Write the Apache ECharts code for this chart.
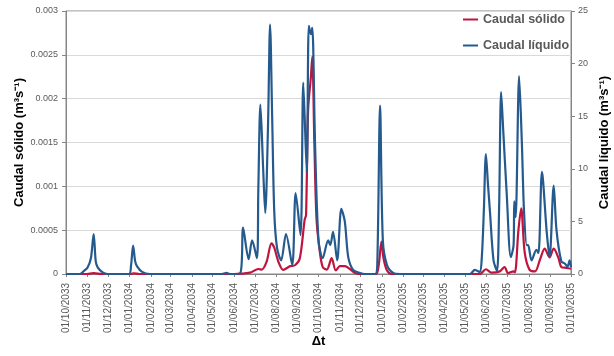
<!DOCTYPE html>
<html>
<head>
    <meta charset="utf-8">
    <title>Caudal sólido y líquido</title>
    <script src="https://cdn.jsdelivr.net/npm/echarts@6/dist/echarts.min.js"></script>
    <style>
        html, body { margin: 0; padding: 0; background: #fff; }
        #chart { width: 614px; height: 356px; }
    </style>
</head>
<body>
<div id="chart"></div>
<script>
    // caudal líquido (eje derecho, m3/s)
    var liqDates = ['2033-10-01', '2033-10-21', '2033-10-27', '2033-11-01', '2033-11-06', '2033-11-10', '2033-11-13',
        '2033-11-16', '2033-11-23', '2033-11-30', '2033-12-31', '2034-01-03', '2034-01-06', '2034-01-09', '2034-01-12',
        '2034-01-19', '2034-01-30', '2034-05-14', '2034-05-21', '2034-05-26', '2034-06-10', '2034-06-14', '2034-06-22',
        '2034-06-27', '2034-07-04', '2034-07-06', '2034-07-09', '2034-07-13', '2034-07-16', '2034-07-20', '2034-07-23',
        '2034-07-26', '2034-07-29', '2034-08-02', '2034-08-08', '2034-08-15', '2034-08-24', '2034-08-29', '2034-09-05',
        '2034-09-09', '2034-09-14', '2034-09-17', '2034-09-20', '2034-09-22', '2034-09-26', '2034-10-01', '2034-10-07',
        '2034-10-15', '2034-10-18', '2034-10-22', '2034-10-28', '2034-11-03', '2034-11-08', '2034-11-13', '2034-11-20',
        '2034-11-30', '2034-12-07', '2034-12-22', '2034-12-25', '2034-12-29', '2035-01-02', '2035-01-08', '2035-01-17',
        '2035-01-27', '2035-05-08', '2035-05-15', '2035-05-22', '2035-05-25', '2035-05-28', '2035-05-31', '2035-06-03',
        '2035-06-06', '2035-06-11', '2035-06-16', '2035-06-19', '2035-06-22', '2035-06-25', '2035-06-30', '2035-07-06',
        '2035-07-10', '2035-07-11', '2035-07-13', '2035-07-18', '2035-07-22', '2035-07-25', '2035-07-29', '2035-07-31',
        '2035-08-05', '2035-08-12', '2035-08-15', '2035-08-20', '2035-08-27', '2035-08-31', '2035-09-06', '2035-09-10',
        '2035-09-17', '2035-09-22', '2035-09-26', '2035-09-29', '2035-10-01'];
    var liqValues = [0, 0, 0.3, 0.6, 1.5, 3.8, 1.2,
        0.6, 0.15, 0, 0, 0.8, 2.7, 1.2, 0.7,
        0.2, 0, 0, 0.1, 0, 0.1, 4.4, 1.4,
        3.2, 1.5, 8, 16.1, 10, 5.8, 14, 23.7,
        15, 6, 2.5, 1.3, 3.8, 0.85, 7.7, 3.7,
        18.2, 9.7, 23.6, 22.8, 23.4, 12.4, 3.2, 1.5,
        3.2, 2.75, 4.0, 1.3, 6.2, 5.0, 1.6, 0.4,
        0.1, 0, 0, 1, 16.0, 3.2, 0.85, 0.1,
        0, 0, 0.4, 0.2, 1.5, 6, 11.4, 8.5,
        5.8, 1.3, 0.3, 6, 17.3, 13.7, 7.7, 1.6,
        2.75, 6.9, 5.4, 18.8, 12.4, 6.1, 2.75, 2.75,
        1.3, 2.3, 2.0, 9.7, 3.9, 1.6, 8.4, 4.2,
        1.2, 1.0, 0.7, 1.3, 0.65];

    // caudal sólido (eje izquierdo, m3/s)
    var solDates = ['2033-10-01', '2033-10-31', '2033-11-10', '2033-11-22', '2034-01-03', '2034-01-07', '2034-01-15',
        '2034-06-01', '2034-06-24', '2034-07-06', '2034-07-11', '2034-07-18', '2034-07-25', '2034-07-29', '2034-08-04',
        '2034-08-11', '2034-08-21', '2034-08-28', '2034-09-04', '2034-09-11', '2034-09-13', '2034-09-16', '2034-09-20',
        '2034-09-22', '2034-09-25', '2034-09-28', '2034-10-02', '2034-10-07', '2034-10-13', '2034-10-20', '2034-10-26',
        '2034-11-01', '2034-11-08', '2034-11-15', '2034-11-23', '2034-11-30', '2034-12-23', '2034-12-27', '2034-12-31',
        '2035-01-03', '2035-01-08', '2035-01-15', '2035-05-22', '2035-05-31', '2035-06-08', '2035-06-20', '2035-06-27',
        '2035-07-02', '2035-07-10', '2035-07-12', '2035-07-17', '2035-07-21', '2035-07-26', '2035-08-02', '2035-08-10',
        '2035-08-17', '2035-08-24', '2035-08-31', '2035-09-06', '2035-09-13', '2035-09-17', '2035-09-24', '2035-10-01'];
    var solValues = [0, 0, 0.00001, 0, 0, 0.000008, 0,
        0, 0.000015, 0.000057, 0.00005, 0.00014, 0.00035, 0.0003, 0.00014,
        0.000046, 0.00009, 0.0001, 0.00018, 0.00062, 0.00067, 0.00187, 0.00225,
        0.00248, 0.0015, 0.00065, 0.00031, 0.00008, 0.00005, 0.00018, 0.00004,
        0.00009, 0.00009, 0.00006, 0.00001, 0, 0, 0.0001, 0.00037,
        0.00018, 0.00004, 0, 0, 0.000054, 0.000015, 0.00003, 0.00008,
        0.00001, 0.00003, 0.00002, 0.0005, 0.00075, 0.00025, 0.00005, 0.00003,
        0.00016, 0.00029, 0.00019, 0.00029, 0.00018, 0.00008, 0.00007, 0.00006];

    var startDate = '2033-10-01';
    var endDate = '2035-10-01';

    // un día por categoría
    var days = [];
    var t = Date.parse(startDate + 'T00:00:00Z');
    var tEnd = Date.parse(endDate + 'T00:00:00Z');
    while (t <= tEnd) {
        days.push(new Date(t).toISOString().slice(0, 10));
        t += 86400000;
    }

    function isMonthStart(index, value) {
        return value.slice(8) === '01';
    }

    function pairs(dates, values) {
        return dates.map(function (d, i) { return [d, values[i]]; });
    }

    var gray = '#595959';
    var axisGray = '#868686';
    var font = 'Liberation Sans, Arial, sans-serif';

    var myChart = echarts.init(document.getElementById('chart'));

    var option = {
        animation: false,
        textStyle: { fontFamily: font },
        grid: {
            left: 66,
            right: 43,
            top: 11,
            bottom: 82,
            outerBoundsMode: 'none',
            show: true,
            borderColor: axisGray,
            borderWidth: 1
        },
        legend: {
            orient: 'vertical',
            left: 458,
            top: 8,
            itemGap: 13,
            itemWidth: 15,
            itemHeight: 2,
            itemTextGap: 4,
            icon: 'rect',
            textStyle: { color: gray, fontWeight: 'bold', fontSize: 12.5, fontFamily: font },
            data: ['Caudal sólido', 'Caudal líquido']
        },
        xAxis: {
            type: 'category',
            data: days,
            boundaryGap: false,
            name: 'Δt',
            nameLocation: 'middle',
            nameGap: 61,
            nameMoveOverlap: false,
            nameTextStyle: { color: '#000', fontWeight: 'bold', fontSize: 13 },
            axisLine: { lineStyle: { color: axisGray } },
            axisTick: { interval: isMonthStart, length: 3, lineStyle: { color: axisGray } },
            axisLabel: {
                interval: isMonthStart,
                rotate: 90,
                color: gray,
                fontSize: 10,
                margin: 9,
                formatter: function (v) {
                    return v.slice(8, 10) + '/' + v.slice(5, 7) + '/' + v.slice(0, 4);
                }
            },
            splitLine: { show: false }
        },
        yAxis: [
            {
                type: 'value',
                min: 0,
                max: 0.003,
                interval: 0.0005,
                name: 'Caudal sólido (m³s⁻¹)',
                nameLocation: 'middle',
                nameRotate: 90,
                nameGap: 40,
                nameMoveOverlap: false,
                nameTextStyle: { color: '#000', fontWeight: 'bold', fontSize: 13 },
                axisLine: { show: true, lineStyle: { color: axisGray } },
                axisTick: { show: true, length: 4, lineStyle: { color: axisGray } },
                axisLabel: {
                    color: gray,
                    fontSize: 9,
                    margin: 8,
                    formatter: function (v) { return String(+v.toFixed(4)); }
                },
                splitLine: { lineStyle: { color: '#d9d9d9' } }
            },
            {
                type: 'value',
                min: 0,
                max: 25,
                interval: 5,
                position: 'right',
                name: 'Caudal líquido (m³s⁻¹)',
                nameLocation: 'middle',
                nameRotate: 90,
                nameGap: 27,
                nameMoveOverlap: false,
                nameTextStyle: { color: '#000', fontWeight: 'bold', fontSize: 13 },
                axisLine: { show: true, lineStyle: { color: axisGray } },
                axisTick: { show: true, length: 4, lineStyle: { color: axisGray } },
                axisLabel: { color: gray, fontSize: 9, margin: 7 },
                splitLine: { show: false }
            }
        ],
        series: [
            {
                name: 'Caudal sólido',
                type: 'line',
                yAxisIndex: 0,
                showSymbol: false,
                smooth: 0.3,
                color: '#C0143E',
                lineStyle: { width: 2.2, color: '#C0143E' },
                data: pairs(solDates, solValues)
            },
            {
                name: 'Caudal líquido',
                type: 'line',
                yAxisIndex: 1,
                showSymbol: false,
                smooth: 0.3,
                color: '#255A8E',
                lineStyle: { width: 2.2, color: '#255A8E' },
                data: pairs(liqDates, liqValues)
            }
        ]
    };

    myChart.setOption(option);
</script>
</body>
</html>
